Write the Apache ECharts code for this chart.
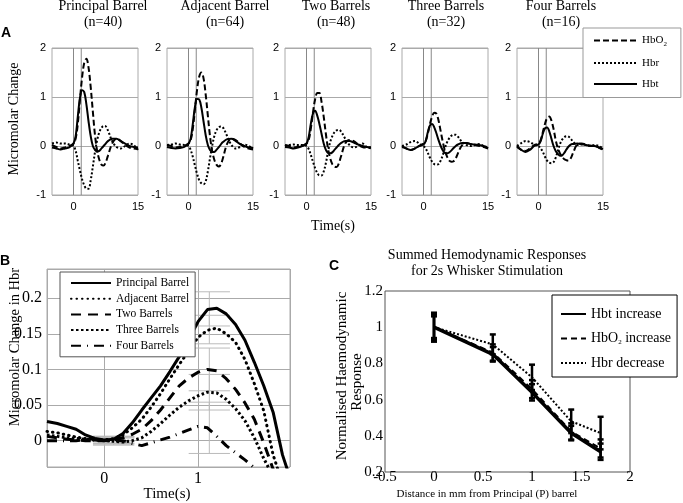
<!DOCTYPE html>
<html>
<head>
<meta charset="utf-8">
<script src="https://cdn.jsdelivr.net/npm/echarts@6/dist/echarts.min.js"></script>
<style>html,body{margin:0;padding:0;background:#fff}#chart{width:683px;height:503px}</style>
</head>
<body>
<div id="chart"></div>
<script>
// panel A: time courses, one row per barrel group
var tA = [-5,-4,-3,-2,-1,0,0.5,1,1.5,2,2.5,3,3.5,4,4.5,5,5.5,6,6.5,7,7.5,8,9,10,11,12,13,14,15];
var panelNames = ['Principal Barrel','Adjacent Barrel','Two Barrels','Three Barrels','Four Barrels'];
var panelN = [40,64,48,32,16];
var stimLines = [0, 1.8];
var hbo2A = [
  [0.02,-0.02,-0.05,-0.03,0.0,0.05,0.15,0.45,0.95,1.4,1.7,1.78,1.6,1.2,0.7,0.22,-0.1,-0.28,-0.38,-0.4,-0.33,-0.2,0.05,0.15,0.1,0.02,-0.03,-0.05,-0.06],
  [0.02,0.0,-0.03,-0.02,0.0,0.05,0.12,0.35,0.75,1.15,1.42,1.5,1.38,1.05,0.62,0.2,-0.1,-0.28,-0.38,-0.42,-0.38,-0.25,0.05,0.15,0.12,0.05,-0.02,-0.05,-0.07],
  [0.02,0.0,-0.03,-0.02,0.0,0.05,0.12,0.35,0.68,0.95,1.08,1.08,0.9,0.6,0.25,-0.05,-0.25,-0.37,-0.42,-0.43,-0.36,-0.22,0.05,0.12,0.1,0.03,-0.02,-0.03,-0.03],
  [0.0,-0.05,-0.08,-0.05,0.0,0.05,0.1,0.25,0.45,0.6,0.68,0.66,0.52,0.3,0.08,-0.1,-0.22,-0.3,-0.32,-0.31,-0.25,-0.15,0.02,0.06,0.04,0.02,0.0,-0.02,-0.05],
  [0.0,-0.08,-0.1,-0.05,0.02,0.05,0.12,0.28,0.45,0.57,0.6,0.52,0.35,0.12,-0.05,-0.15,-0.22,-0.27,-0.29,-0.3,-0.25,-0.15,0.03,0.05,0.03,0.0,0.0,-0.03,-0.08]
];
var hbrA = [
  [0.05,0.07,0.05,0.05,0.03,0.0,-0.1,-0.3,-0.5,-0.68,-0.8,-0.87,-0.87,-0.7,-0.42,-0.12,0.12,0.28,0.37,0.41,0.4,0.32,0.1,-0.02,-0.05,0.0,0.05,0.02,-0.08],
  [0.02,0.03,0.05,0.03,0.02,0.0,-0.08,-0.22,-0.4,-0.57,-0.7,-0.76,-0.78,-0.72,-0.52,-0.25,0.0,0.2,0.32,0.38,0.4,0.38,0.2,0.02,-0.05,-0.02,0.03,0.0,-0.05],
  [0.0,0.02,0.03,0.02,0.02,0.0,-0.06,-0.18,-0.32,-0.45,-0.55,-0.6,-0.6,-0.52,-0.35,-0.12,0.08,0.2,0.28,0.32,0.33,0.3,0.15,0.02,-0.03,0.0,0.05,-0.02,-0.05],
  [0.0,0.03,0.08,0.1,0.05,0.0,-0.05,-0.14,-0.24,-0.32,-0.37,-0.38,-0.37,-0.3,-0.18,-0.04,0.08,0.16,0.21,0.23,0.23,0.19,0.08,0.02,0.0,0.02,0.04,0.0,-0.03],
  [0.0,0.06,0.1,0.08,0.03,0.0,-0.05,-0.12,-0.22,-0.3,-0.34,-0.35,-0.33,-0.24,-0.1,0.04,0.13,0.18,0.2,0.19,0.15,0.09,0.02,0.03,0.02,0.0,0.02,0.0,-0.05]
];
var hbtA = [
  [-0.03,-0.05,-0.07,-0.05,-0.03,0.05,0.2,0.6,0.98,1.14,1.1,0.85,0.5,0.2,0.0,-0.08,-0.11,-0.1,-0.05,0.0,0.05,0.1,0.15,0.15,0.1,0.05,0.0,-0.02,-0.03],
  [-0.02,-0.04,-0.05,-0.04,-0.02,0.05,0.15,0.45,0.8,0.96,0.95,0.78,0.5,0.22,0.02,-0.08,-0.12,-0.12,-0.08,-0.03,0.03,0.08,0.14,0.15,0.1,0.04,0.0,-0.03,-0.04],
  [-0.02,-0.03,-0.05,-0.03,0.0,0.05,0.18,0.45,0.66,0.72,0.62,0.45,0.25,0.05,-0.08,-0.14,-0.15,-0.13,-0.08,-0.03,0.02,0.06,0.1,0.1,0.07,0.03,0.0,-0.02,-0.03],
  [-0.02,-0.05,-0.08,-0.05,0.0,0.03,0.1,0.28,0.42,0.45,0.38,0.26,0.12,0.0,-0.09,-0.14,-0.15,-0.13,-0.09,-0.04,0.0,0.03,0.06,0.06,0.04,0.03,0.02,0.0,-0.05],
  [-0.02,-0.08,-0.12,-0.08,0.0,0.03,0.1,0.25,0.36,0.38,0.3,0.15,0.0,-0.1,-0.16,-0.2,-0.19,-0.14,-0.07,-0.01,0.03,0.04,0.05,0.04,0.02,0.01,0.0,-0.03,-0.06]
];

// panel B: Hbr change, zoomed
var tB = [-0.61,-0.5,-0.4,-0.3,-0.2,-0.1,0,0.1,0.2,0.3,0.4,0.5,0.6,0.7,0.8,0.9,1.0,1.1,1.2,1.3,1.4,1.5,1.6,1.7,1.8,1.9,2.0];
var hbrPrincipal = [0.027,0.024,0.02,0.016,0.008,0.003,0.001,0.002,0.01,0.025,0.043,0.06,0.077,0.097,0.118,0.142,0.167,0.184,0.186,0.178,0.163,0.141,0.11,0.077,0.04,-0.02,-0.06];
var hbrAdjacent = [0.013,0.011,0.008,0.005,0.003,0.002,0.001,0.003,0.008,0.018,0.03,0.047,0.066,0.087,0.107,0.126,0.145,0.155,0.158,0.15,0.138,0.114,0.08,0.042,-0.02,-0.06,-0.1];
var hbrTwo = [0.006,0.004,0.002,0.001,0,0,0,0.001,0.004,0.009,0.016,0.028,0.043,0.06,0.077,0.088,0.096,0.1,0.098,0.087,0.072,0.053,0.03,-0.003,-0.04,-0.07,-0.1];
var hbrThree = [0.008,0.006,0.004,0.003,0.002,0.001,0,-0.001,-0.002,0,0.004,0.013,0.024,0.036,0.047,0.056,0.063,0.068,0.067,0.058,0.045,0.028,0.004,-0.025,-0.05,-0.08,-0.1];
var hbrFour = [0,0,0,0,0.001,0.001,0,0,0,-0.004,-0.007,-0.003,0.001,0.005,0.01,0.015,0.02,0.018,0.006,-0.007,-0.017,-0.027,-0.038,-0.05,-0.07,-0.09,-0.1];
var errBTimes = [0.1, 1.12];
var errBCenter = [[0.001,0.002,0.0,-0.001,0.0],[0.185,0.156,0.1,0.068,0.018]];
var errBHalf = [[0.005,0.004,0.004,0.005,0.006],[0.024,0.02,0.03,0.025,0.036]];

// panel C: normalised summed responses
var distC = [0, 0.6, 1, 1.4, 1.7];
var hbtC = [1.0, 0.85, 0.64, 0.415, 0.312];
var hbo2C = [1.0, 0.86, 0.658, 0.424, 0.33];
var hbrC = [1.0, 0.905, 0.723, 0.48, 0.415];
var hbtErr = [0.08, 0.04, 0.045, 0.04, 0.045];
var hbo2Err = [0.07, 0.045, 0.05, 0.045, 0.05];
var hbrErr = [0.06, 0.055, 0.07, 0.065, 0.09];

var serif = 'Liberation Serif';
var sans = 'Liberation Sans';
var myChart = echarts.init(document.getElementById('chart'));

// vertical stimulus markers spanning the whole plot height
function stimRender(params, api) {
  var p = api.coord([api.value(0), api.value(1)]);
  var cs = params.coordSys;
  return {type: 'line', shape: {x1: p[0], y1: cs.y, x2: p[0], y2: cs.y + cs.height},
    style: {stroke: '#888', lineWidth: 1}};
}

var gridLeftA = [52, 167, 285, 402, 517];
var grids = [], xAxes = [], yAxes = [], series = [];
for (var i = 0; i < 5; i++) {
  grids.push({left: gridLeftA[i], top: 48, width: 86, height: 147, show: true, borderColor: '#aaa', borderWidth: 1});
  xAxes.push({gridIndex: i, type: 'value', min: -5, max: 15, interval: 5,
    axisLine: {show: false}, axisTick: {show: false}, splitLine: {show: false},
    axisLabel: {fontFamily: sans, fontSize: 11, color: '#000', margin: 6,
      formatter: function (v) { return (v === 0 || v === 15) ? String(v) : ''; }}});
  yAxes.push({gridIndex: i, type: 'value', min: -1, max: 2, interval: 1,
    axisLine: {show: false}, axisTick: {show: false},
    splitLine: {show: true, lineStyle: {color: '#aaa', width: 1}},
    axisLabel: {fontFamily: sans, fontSize: 11, color: '#000', margin: 6}});
  var mk = function (arr) { return tA.map(function (t, k) { return [t, arr[k]]; }); };
  series.push({type: 'custom', xAxisIndex: i, yAxisIndex: i, z: 1, silent: true, clip: true,
    data: stimLines.map(function (v) { return [v, 0]; }), renderItem: stimRender});
  series.push({name: 'HbO2', type: 'line', xAxisIndex: i, yAxisIndex: i, data: mk(hbo2A[i]), symbol: 'none', smooth: 0.35,
    itemStyle: {color: '#000'}, lineStyle: {color: '#000', width: 2, type: [6, 3]}, z: 3});
  series.push({name: 'Hbr', type: 'line', xAxisIndex: i, yAxisIndex: i, data: mk(hbrA[i]), symbol: 'none', smooth: 0.35,
    itemStyle: {color: '#000'}, lineStyle: {color: '#000', width: 2, type: [2, 2]}, z: 3});
  series.push({name: 'Hbt', type: 'line', xAxisIndex: i, yAxisIndex: i, data: mk(hbtA[i]), symbol: 'none', smooth: 0.35,
    itemStyle: {color: '#000'}, lineStyle: {color: '#000', width: 2}, z: 3});
}

// panel B
grids.push({left: 47, top: 269, width: 243, height: 198, show: true, borderColor: '#aaa', borderWidth: 1});
xAxes.push({gridIndex: 5, type: 'value', min: -0.61, max: 1.98, splitNumber: 2,
  axisLine: {show: false}, axisTick: {show: false},
  splitLine: {show: true, lineStyle: {color: '#aaa'}},
  axisLabel: {fontFamily: serif, fontSize: 16, color: '#000', margin: 4, showMinLabel: false, showMaxLabel: false}});
yAxes.push({gridIndex: 5, type: 'value', min: -0.037, max: 0.241, splitNumber: 5,
  axisLine: {show: false}, axisTick: {show: false},
  splitLine: {show: true, lineStyle: {color: '#aaa'}},
  axisLabel: {fontFamily: serif, fontSize: 16, color: '#000', margin: 5, showMinLabel: false, showMaxLabel: false}});
var bNames = ['Principal Barrel','Adjacent Barrel','Two Barrels','Three Barrels','Four Barrels'];
var bData = [hbrPrincipal, hbrAdjacent, hbrTwo, hbrThree, hbrFour];
var bDash = ['solid', [0.5, 5], [10, 7], [2.5, 2.5], [10, 6, 1, 6]];
var bCap = ['butt', 'round', 'butt', 'butt', 'butt'];
for (var j = 0; j < 5; j++) {
  series.push({name: bNames[j], type: 'line', xAxisIndex: 5, yAxisIndex: 5, symbol: 'none',
    data: tB.map(function (t, k) { return [t, bData[j][k]]; }),
    itemStyle: {color: '#000'}, lineStyle: {color: '#000', width: 3, type: bDash[j], cap: bCap[j]}, z: 3});
}
var errBData = [];
errBTimes.forEach(function (t, a) {
  errBCenter[a].forEach(function (c, b) { errBData.push([t, c - errBHalf[a][b], c + errBHalf[a][b]]); });
});
series.push({type: 'custom', xAxisIndex: 5, yAxisIndex: 5, z: 1, silent: true, clip: true, data: errBData,
  renderItem: function (params, api) {
    var x = api.value(0), lo = api.value(1), hi = api.value(2);
    var p1 = api.coord([x, lo]), p2 = api.coord([x, hi]);
    var l = api.coord([x - 0.22, lo])[0], r = api.coord([x + 0.22, lo])[0];
    var st = {stroke: '#bbb', lineWidth: 1};
    return {type: 'group', children: [
      {type: 'line', shape: {x1: p1[0], y1: p1[1], x2: p2[0], y2: p2[1]}, style: st},
      {type: 'line', shape: {x1: l, y1: p1[1], x2: r, y2: p1[1]}, style: st},
      {type: 'line', shape: {x1: l, y1: p2[1], x2: r, y2: p2[1]}, style: st}
    ]};
  }});

// panel C
grids.push({left: 385, top: 291, width: 245, height: 181, show: true, borderColor: '#555', borderWidth: 1});
xAxes.push({gridIndex: 6, type: 'value', min: -0.5, max: 2, interval: 0.5,
  axisLine: {show: false, onZero: false}, axisTick: {show: false},
  splitLine: {show: false},
  axisLabel: {fontFamily: serif, fontSize: 15, color: '#000', margin: -2}});
yAxes.push({gridIndex: 6, type: 'value', min: 0.2, max: 1.2, interval: 0.2,
  axisLine: {show: false, onZero: false}, axisTick: {show: false},
  splitLine: {show: false},
  axisLabel: {fontFamily: serif, fontSize: 15, color: '#000', margin: 2}});
var cNames = ['Hbt increase', 'HbO2 increase', 'Hbr decrease'];
var cData = [hbtC, hbo2C, hbrC];
var cErr = [hbtErr, hbo2Err, hbrErr];
var cStyle = [{width: 3.5, type: 'solid'}, {width: 2, type: [6, 4]}, {width: 2, type: [2, 2]}];
for (var m = 0; m < 3; m++) {
  series.push({name: cNames[m], type: 'line', xAxisIndex: 6, yAxisIndex: 6, symbol: 'none',
    data: distC.map(function (d, k) { return [d, cData[m][k]]; }),
    itemStyle: {color: '#000'}, lineStyle: {color: '#000', width: cStyle[m].width, type: cStyle[m].type}, z: 3});
  series.push({type: 'custom', xAxisIndex: 6, yAxisIndex: 6, z: 4, silent: true, clip: true,
    data: distC.map(function (d, k) { return [d, cData[m][k] - cErr[m][k], cData[m][k] + cErr[m][k]]; }),
    renderItem: function (params, api) {
      var x = api.value(0), lo = api.value(1), hi = api.value(2);
      var p1 = api.coord([x, lo]), p2 = api.coord([x, hi]);
      var st = {stroke: '#000', lineWidth: 2.5};
      return {type: 'group', children: [
        {type: 'line', shape: {x1: p1[0], y1: p1[1], x2: p2[0], y2: p2[1]}, style: st},
        {type: 'line', shape: {x1: p1[0] - 3, y1: p1[1], x2: p1[0] + 3, y2: p1[1]}, style: st},
        {type: 'line', shape: {x1: p2[0] - 3, y1: p2[1], x2: p2[0] + 3, y2: p2[1]}, style: st}
      ]};
    }});
}

var subRich = {
  s: {fontFamily: serif, fontSize: 7, verticalAlign: 'bottom', padding: [7, 0, 0, 0]}
};
var subFmt = function (name) { return name.replace('HbO2', 'HbO{s|2}'); };
var noSymbol = {color: 'rgba(0,0,0,0)', borderWidth: 0, opacity: 0};

var texts = [];
panelNames.forEach(function (nm, k) {
  var cx = [103, 225, 336, 446, 561][k];
  texts.push({type: 'text', x: cx, y: 6, style: {text: nm, fontFamily: serif, fontSize: 14, fill: '#000', align: 'center', verticalAlign: 'middle'}});
  texts.push({type: 'text', x: cx, y: 22, style: {text: '(n=' + panelN[k] + ')', fontFamily: serif, fontSize: 14, fill: '#000', align: 'center', verticalAlign: 'middle'}});
});
texts.push({type: 'text', x: 6, y: 33, style: {text: 'A', fontFamily: sans, fontWeight: 'bold', fontSize: 14, fill: '#000', align: 'center', verticalAlign: 'middle'}});
texts.push({type: 'text', x: 5, y: 261, style: {text: 'B', fontFamily: sans, fontWeight: 'bold', fontSize: 14, fill: '#000', align: 'center', verticalAlign: 'middle'}});
texts.push({type: 'text', x: 334, y: 266, style: {text: 'C', fontFamily: sans, fontWeight: 'bold', fontSize: 14, fill: '#000', align: 'center', verticalAlign: 'middle'}});
texts.push({type: 'text', x: 14, y: 119, rotation: Math.PI / 2, style: {text: 'Micromolar Change', fontFamily: serif, fontSize: 14, fill: '#000', align: 'center', verticalAlign: 'middle'}});
texts.push({type: 'text', x: 333, y: 226, style: {text: 'Time(s)', fontFamily: serif, fontSize: 14, fill: '#000', align: 'center', verticalAlign: 'middle'}});
texts.push({type: 'text', x: 15, y: 347, rotation: Math.PI / 2, style: {text: 'Micromolar Change in Hbr', fontFamily: serif, fontSize: 14.5, fill: '#000', align: 'center', verticalAlign: 'middle'}});
texts.push({type: 'text', x: 167, y: 494, style: {text: 'Time(s)', fontFamily: serif, fontSize: 15, fill: '#000', align: 'center', verticalAlign: 'middle'}});
texts.push({type: 'text', x: 487, y: 255, style: {text: 'Summed Hemodynamic Responses', fontFamily: serif, fontSize: 14, fill: '#000', align: 'center', verticalAlign: 'middle'}});
texts.push({type: 'text', x: 487, y: 271, style: {text: 'for 2s Whisker Stimulation', fontFamily: serif, fontSize: 14, fill: '#000', align: 'center', verticalAlign: 'middle'}});
texts.push({type: 'text', x: 342, y: 376, rotation: Math.PI / 2, style: {text: 'Normalised Haemodynamic', fontFamily: serif, fontSize: 15, fill: '#000', align: 'center', verticalAlign: 'middle'}});
texts.push({type: 'text', x: 357, y: 382, rotation: Math.PI / 2, style: {text: 'Response', fontFamily: serif, fontSize: 15, fill: '#000', align: 'center', verticalAlign: 'middle'}});
texts.push({type: 'text', x: 487, y: 494, style: {text: 'Distance in mm from Principal (P) barrel', fontFamily: serif, fontSize: 11, fill: '#000', align: 'center', verticalAlign: 'middle'}});

var option = {
  animation: false,
  backgroundColor: '#fff',
  grid: grids,
  xAxis: xAxes,
  yAxis: yAxes,
  legend: [
    {data: ['HbO2', 'Hbr', 'Hbt'], orient: 'vertical', left: 583, top: 28, selectedMode: false,
      backgroundColor: '#fff', borderColor: '#999', borderWidth: 1, padding: [7, 14, 8, 10],
      itemWidth: 43, itemHeight: 10, itemGap: 10, formatter: subFmt, itemStyle: noSymbol,
      textStyle: {fontFamily: serif, fontSize: 11, color: '#000', rich: subRich}},
    {data: bNames, orient: 'vertical', left: 60, top: 272, selectedMode: false,
      backgroundColor: '#fff', borderColor: '#555', borderWidth: 1, padding: [5, 6, 5, 10],
      itemWidth: 40, itemHeight: 10, itemGap: 3.7, itemStyle: noSymbol,
      textStyle: {fontFamily: serif, fontSize: 11.5, color: '#000'}},
    {data: cNames, orient: 'vertical', left: 552, top: 295, selectedMode: false,
      backgroundColor: '#fff', borderColor: '#000', borderWidth: 1, padding: [12, 6, 7, 8],
      itemWidth: 25, itemHeight: 10, itemGap: 10.5, formatter: subFmt, itemStyle: noSymbol,
      textStyle: {fontFamily: serif, fontSize: 14, color: '#000', rich: subRich}}
  ],
  graphic: texts,
  series: series
};
myChart.setOption(option);
</script>
</body>
</html>
